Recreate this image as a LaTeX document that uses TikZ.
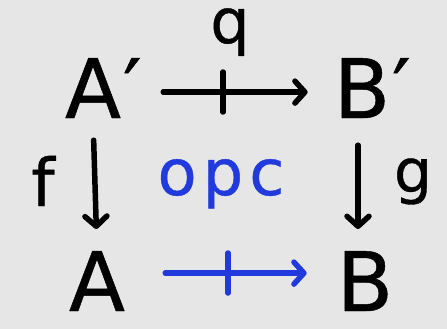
\documentclass[tikz,border=0pt]{standalone}
\usepackage{fontspec}
\setmainfont{DejaVu Sans}
\newfontfamily\hand[FakeBold=0.6]{DejaVu Sans}
\usetikzlibrary{arrows.meta}
\definecolor{bg}{RGB}{230,230,230}
\definecolor{pen}{RGB}{32,58,222}
\begin{document}
\begin{tikzpicture}[x=1pt,y=-1pt,
  obj/.style={inner sep=0pt, font=\hand\fontsize{82}{82}\selectfont},
  lab/.style={inner sep=0pt, font=\hand\fontsize{58}{58}\selectfont},
  arr/.style={line width=5.5pt, line cap=round,
    -{Straight Barb[length=10pt,width=22pt,line cap=round,line join=round]}},
  tick/.style={line width=5.5pt, line cap=round}]
\fill[bg] (0,0) rectangle (447,329);
\useasboundingbox (0,0) rectangle (447,329);
% objects
\node[obj, anchor=base] (Ap) at (93,118) {A\rlap{\kern2pt′}};
\node[obj, anchor=base] (Bp) at (362,118) {B\rlap{\kern2pt′}};
\node[obj, anchor=base] (A) at (97,311) {A};
\node[obj, anchor=base] (B) at (365,311) {B};
% labels
\node[lab, font=\hand\fontsize{62}{62}\selectfont, anchor=base] (q) at (230,43) {q};
\node[lab, font=\hand\fontsize{66}{66}\selectfont, anchor=base] (f) at (43,206) {f};
\node[lab, font=\hand\fontsize{60}{60}\selectfont, anchor=base] (g) at (413,192) {g};
\node[lab, text=pen, font=\hand\fontsize{64}{64}\selectfont, anchor=base] (opc) at (221,195) {o\hspace{6pt}p\hspace{6pt}c};
% tick coordinates
\coordinate (t1) at (223,92);
\coordinate (t2) at (228,273);
% arrows
\draw[arr, shorten <=42pt, shorten >=26pt] ([yshift=-4pt]Ap.east) -- ([yshift=-4pt]Bp.west);
\draw[tick] ([yshift=20pt]t1) -- ([yshift=-20pt]t1);
\draw[arr, shorten <=22pt, shorten >=22pt] (Ap.south) -- (A.north);
\draw[arr, shorten <=27pt, shorten >=22pt] ([xshift=-4pt]Bp.south) -- ([xshift=-7pt]B.north);
\draw[arr, pen, shorten <=40pt, shorten >=30pt] ([yshift=8pt]A.east) -- ([yshift=8pt]B.west);
\draw[tick, pen] ([yshift=20pt]t2) -- ([yshift=-20pt]t2);
\end{tikzpicture}
\end{document}
